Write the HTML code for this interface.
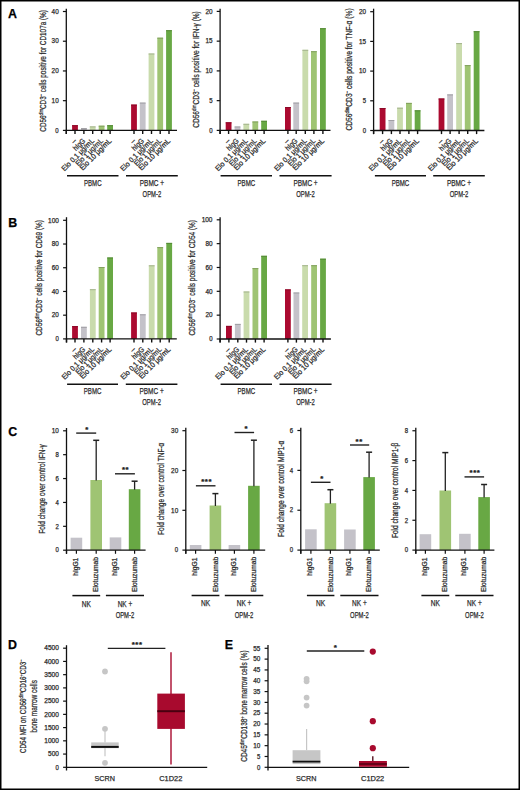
<!DOCTYPE html>
<html><head><meta charset="utf-8"><title>Figure</title>
<style>
html,body{margin:0;padding:0;background:#fff;}
body{width:520px;height:790px;overflow:hidden;}
svg{display:block;}
text{font-family:"Liberation Sans", sans-serif;stroke:currentColor;stroke-width:0.25px;}
</style></head>
<body>
<svg width="520" height="790" viewBox="0 0 520 790">
<rect x="0" y="0" width="520" height="790" fill="#fff"/>
<text x="8.00" y="18.00" font-size="12.4" text-anchor="start" fill="#000" color="#000" font-weight="bold">A</text>
<text x="8.30" y="226.60" font-size="12.4" text-anchor="start" fill="#000" color="#000" font-weight="bold">B</text>
<text x="8.30" y="436.30" font-size="12.4" text-anchor="start" fill="#000" color="#000" font-weight="bold">C</text>
<text x="8.00" y="648.60" font-size="12.4" text-anchor="start" fill="#000" color="#000" font-weight="bold">D</text>
<text x="224.80" y="648.80" font-size="12.4" text-anchor="start" fill="#000" color="#000" font-weight="bold">E</text>
<line x1="66.30" y1="8.70" x2="66.30" y2="134.00" stroke="#111" stroke-width="1.3"/>
<line x1="62.90" y1="130.40" x2="66.30" y2="130.40" stroke="#111" stroke-width="1.2"/>
<text x="58.70" y="132.64" font-size="6.6" text-anchor="end" fill="#2a2a2a" color="#2a2a2a" font-weight="normal" textLength="3.35" lengthAdjust="spacingAndGlyphs">0</text>
<line x1="62.90" y1="100.68" x2="66.30" y2="100.68" stroke="#111" stroke-width="1.2"/>
<text x="58.70" y="102.91" font-size="6.6" text-anchor="end" fill="#2a2a2a" color="#2a2a2a" font-weight="normal" textLength="7.10" lengthAdjust="spacingAndGlyphs">10</text>
<line x1="62.90" y1="70.95" x2="66.30" y2="70.95" stroke="#111" stroke-width="1.2"/>
<text x="58.70" y="73.19" font-size="6.6" text-anchor="end" fill="#2a2a2a" color="#2a2a2a" font-weight="normal" textLength="7.10" lengthAdjust="spacingAndGlyphs">20</text>
<line x1="62.90" y1="41.22" x2="66.30" y2="41.22" stroke="#111" stroke-width="1.2"/>
<text x="58.70" y="43.46" font-size="6.6" text-anchor="end" fill="#2a2a2a" color="#2a2a2a" font-weight="normal" textLength="7.10" lengthAdjust="spacingAndGlyphs">30</text>
<line x1="62.90" y1="11.50" x2="66.30" y2="11.50" stroke="#111" stroke-width="1.2"/>
<text x="58.70" y="13.74" font-size="6.6" text-anchor="end" fill="#2a2a2a" color="#2a2a2a" font-weight="normal" textLength="7.10" lengthAdjust="spacingAndGlyphs">40</text>
<rect x="72.10" y="125.20" width="5.80" height="5.20" fill="#ab0a30"/>
<rect x="72.10" y="125.20" width="5.80" height="1.00" fill="#8c0827"/>
<rect x="81.00" y="128.10" width="5.80" height="2.30" fill="#c4c2c9"/>
<rect x="81.00" y="128.10" width="5.80" height="1.00" fill="#a09fa4"/>
<rect x="89.80" y="126.40" width="5.80" height="4.00" fill="#c9dbac"/>
<rect x="89.80" y="126.40" width="5.80" height="1.00" fill="#a4b38d"/>
<rect x="98.70" y="125.70" width="5.80" height="4.70" fill="#9fc473"/>
<rect x="98.70" y="125.70" width="5.80" height="1.00" fill="#82a05e"/>
<rect x="107.20" y="125.20" width="5.80" height="5.20" fill="#68a844"/>
<rect x="107.20" y="125.20" width="5.80" height="1.00" fill="#558937"/>
<rect x="131.10" y="104.60" width="5.80" height="25.80" fill="#ab0a30"/>
<rect x="131.10" y="104.60" width="5.80" height="1.00" fill="#8c0827"/>
<rect x="139.80" y="102.60" width="5.80" height="27.80" fill="#c4c2c9"/>
<rect x="139.80" y="102.60" width="5.80" height="1.00" fill="#a09fa4"/>
<rect x="148.60" y="53.50" width="5.80" height="76.90" fill="#c9dbac"/>
<rect x="148.60" y="53.50" width="5.80" height="1.00" fill="#a4b38d"/>
<rect x="157.30" y="37.70" width="5.80" height="92.70" fill="#9fc473"/>
<rect x="157.30" y="37.70" width="5.80" height="1.00" fill="#82a05e"/>
<rect x="166.10" y="30.20" width="5.80" height="100.20" fill="#68a844"/>
<rect x="166.10" y="30.20" width="5.80" height="1.00" fill="#558937"/>
<line x1="65.70" y1="130.40" x2="177.00" y2="130.40" stroke="#111" stroke-width="1.3"/>
<line x1="66.30" y1="130.40" x2="66.30" y2="134.00" stroke="#111" stroke-width="1.4"/>
<line x1="75.00" y1="130.40" x2="75.00" y2="134.00" stroke="#111" stroke-width="1.4"/>
<line x1="83.90" y1="130.40" x2="83.90" y2="134.00" stroke="#111" stroke-width="1.4"/>
<line x1="92.70" y1="130.40" x2="92.70" y2="134.00" stroke="#111" stroke-width="1.4"/>
<line x1="101.60" y1="130.40" x2="101.60" y2="134.00" stroke="#111" stroke-width="1.4"/>
<line x1="110.10" y1="130.40" x2="110.10" y2="134.00" stroke="#111" stroke-width="1.4"/>
<line x1="134.00" y1="130.40" x2="134.00" y2="134.00" stroke="#111" stroke-width="1.4"/>
<line x1="142.70" y1="130.40" x2="142.70" y2="134.00" stroke="#111" stroke-width="1.4"/>
<line x1="151.50" y1="130.40" x2="151.50" y2="134.00" stroke="#111" stroke-width="1.4"/>
<line x1="160.20" y1="130.40" x2="160.20" y2="134.00" stroke="#111" stroke-width="1.4"/>
<line x1="169.00" y1="130.40" x2="169.00" y2="134.00" stroke="#111" stroke-width="1.4"/>
<text x="45.69" y="70.90" font-size="9.0" text-anchor="middle" fill="#2a2a2a" color="#2a2a2a" font-weight="normal" textLength="121.60" lengthAdjust="spacingAndGlyphs" transform="rotate(-90 45.69 70.90)">CD56<tspan font-size="5.6" dy="-3.0">dim</tspan><tspan dy="3.0">​</tspan>CD3<tspan font-size="5.6" dy="-3.0">−</tspan><tspan dy="3.0">​</tspan> cells positive for CD107a (%)</text>
<text x="76.90" y="141.40" font-size="7.5" text-anchor="end" fill="#2a2a2a" color="#2a2a2a" font-weight="normal" transform="rotate(-45 76.90 141.40)">–</text>
<text x="85.80" y="141.40" font-size="7.5" text-anchor="end" fill="#2a2a2a" color="#2a2a2a" font-weight="normal" textLength="14.00" lengthAdjust="spacingAndGlyphs" transform="rotate(-45 85.80 141.40)">hIgG</text>
<text x="94.60" y="141.40" font-size="7.5" text-anchor="end" fill="#2a2a2a" color="#2a2a2a" font-weight="normal" textLength="42.50" lengthAdjust="spacingAndGlyphs" transform="rotate(-45 94.60 141.40)">Elo 0.1 μg/mL</text>
<text x="103.50" y="141.40" font-size="7.5" text-anchor="end" fill="#2a2a2a" color="#2a2a2a" font-weight="normal" textLength="35.50" lengthAdjust="spacingAndGlyphs" transform="rotate(-45 103.50 141.40)">Elo 1 μg/mL</text>
<text x="112.00" y="141.40" font-size="7.5" text-anchor="end" fill="#2a2a2a" color="#2a2a2a" font-weight="normal" textLength="41.50" lengthAdjust="spacingAndGlyphs" transform="rotate(-45 112.00 141.40)">Elo 10 μg/mL</text>
<text x="135.90" y="141.40" font-size="7.5" text-anchor="end" fill="#2a2a2a" color="#2a2a2a" font-weight="normal" transform="rotate(-45 135.90 141.40)">–</text>
<text x="144.60" y="141.40" font-size="7.5" text-anchor="end" fill="#2a2a2a" color="#2a2a2a" font-weight="normal" textLength="14.00" lengthAdjust="spacingAndGlyphs" transform="rotate(-45 144.60 141.40)">hIgG</text>
<text x="153.40" y="141.40" font-size="7.5" text-anchor="end" fill="#2a2a2a" color="#2a2a2a" font-weight="normal" textLength="42.50" lengthAdjust="spacingAndGlyphs" transform="rotate(-45 153.40 141.40)">Elo 0.1 μg/mL</text>
<text x="162.10" y="141.40" font-size="7.5" text-anchor="end" fill="#2a2a2a" color="#2a2a2a" font-weight="normal" textLength="35.50" lengthAdjust="spacingAndGlyphs" transform="rotate(-45 162.10 141.40)">Elo 1 μg/mL</text>
<text x="170.90" y="141.40" font-size="7.5" text-anchor="end" fill="#2a2a2a" color="#2a2a2a" font-weight="normal" textLength="41.50" lengthAdjust="spacingAndGlyphs" transform="rotate(-45 170.90 141.40)">Elo 10 μg/mL</text>
<line x1="67.00" y1="175.70" x2="118.50" y2="175.70" stroke="#111" stroke-width="1.5"/>
<line x1="126.00" y1="175.70" x2="177.80" y2="175.70" stroke="#111" stroke-width="1.5"/>
<text x="92.75" y="185.60" font-size="9.2" text-anchor="middle" fill="#2a2a2a" color="#2a2a2a" font-weight="normal" textLength="17.60" lengthAdjust="spacingAndGlyphs">PBMC</text>
<text x="151.90" y="185.60" font-size="9.2" text-anchor="middle" fill="#2a2a2a" color="#2a2a2a" font-weight="normal" textLength="24.20" lengthAdjust="spacingAndGlyphs">PBMC +</text>
<text x="151.90" y="196.50" font-size="9.2" text-anchor="middle" fill="#2a2a2a" color="#2a2a2a" font-weight="normal" textLength="18.60" lengthAdjust="spacingAndGlyphs">OPM-2</text>
<line x1="220.10" y1="8.70" x2="220.10" y2="134.00" stroke="#111" stroke-width="1.3"/>
<line x1="216.70" y1="130.40" x2="220.10" y2="130.40" stroke="#111" stroke-width="1.2"/>
<text x="212.50" y="132.64" font-size="6.6" text-anchor="end" fill="#2a2a2a" color="#2a2a2a" font-weight="normal" textLength="3.35" lengthAdjust="spacingAndGlyphs">0</text>
<line x1="216.70" y1="100.65" x2="220.10" y2="100.65" stroke="#111" stroke-width="1.2"/>
<text x="212.50" y="102.89" font-size="6.6" text-anchor="end" fill="#2a2a2a" color="#2a2a2a" font-weight="normal" textLength="3.35" lengthAdjust="spacingAndGlyphs">5</text>
<line x1="216.70" y1="70.90" x2="220.10" y2="70.90" stroke="#111" stroke-width="1.2"/>
<text x="212.50" y="73.14" font-size="6.6" text-anchor="end" fill="#2a2a2a" color="#2a2a2a" font-weight="normal" textLength="7.10" lengthAdjust="spacingAndGlyphs">10</text>
<line x1="216.70" y1="41.15" x2="220.10" y2="41.15" stroke="#111" stroke-width="1.2"/>
<text x="212.50" y="43.39" font-size="6.6" text-anchor="end" fill="#2a2a2a" color="#2a2a2a" font-weight="normal" textLength="7.10" lengthAdjust="spacingAndGlyphs">15</text>
<line x1="216.70" y1="11.40" x2="220.10" y2="11.40" stroke="#111" stroke-width="1.2"/>
<text x="212.50" y="13.64" font-size="6.6" text-anchor="end" fill="#2a2a2a" color="#2a2a2a" font-weight="normal" textLength="7.10" lengthAdjust="spacingAndGlyphs">20</text>
<rect x="225.70" y="122.30" width="5.80" height="8.10" fill="#ab0a30"/>
<rect x="225.70" y="122.30" width="5.80" height="1.00" fill="#8c0827"/>
<rect x="234.60" y="126.50" width="5.80" height="3.90" fill="#c4c2c9"/>
<rect x="234.60" y="126.50" width="5.80" height="1.00" fill="#a09fa4"/>
<rect x="243.40" y="123.80" width="5.80" height="6.60" fill="#c9dbac"/>
<rect x="243.40" y="123.80" width="5.80" height="1.00" fill="#a4b38d"/>
<rect x="252.40" y="121.50" width="5.80" height="8.90" fill="#9fc473"/>
<rect x="252.40" y="121.50" width="5.80" height="1.00" fill="#82a05e"/>
<rect x="261.20" y="120.80" width="5.80" height="9.60" fill="#68a844"/>
<rect x="261.20" y="120.80" width="5.80" height="1.00" fill="#558937"/>
<rect x="285.00" y="107.00" width="5.80" height="23.40" fill="#ab0a30"/>
<rect x="285.00" y="107.00" width="5.80" height="1.00" fill="#8c0827"/>
<rect x="293.30" y="102.60" width="5.80" height="27.80" fill="#c4c2c9"/>
<rect x="293.30" y="102.60" width="5.80" height="1.00" fill="#a09fa4"/>
<rect x="302.40" y="49.80" width="5.80" height="80.60" fill="#c9dbac"/>
<rect x="302.40" y="49.80" width="5.80" height="1.00" fill="#a4b38d"/>
<rect x="311.00" y="51.20" width="5.80" height="79.20" fill="#9fc473"/>
<rect x="311.00" y="51.20" width="5.80" height="1.00" fill="#82a05e"/>
<rect x="320.00" y="28.20" width="5.80" height="102.20" fill="#68a844"/>
<rect x="320.00" y="28.20" width="5.80" height="1.00" fill="#558937"/>
<line x1="219.50" y1="130.40" x2="330.50" y2="130.40" stroke="#111" stroke-width="1.3"/>
<line x1="220.10" y1="130.40" x2="220.10" y2="134.00" stroke="#111" stroke-width="1.4"/>
<line x1="228.60" y1="130.40" x2="228.60" y2="134.00" stroke="#111" stroke-width="1.4"/>
<line x1="237.50" y1="130.40" x2="237.50" y2="134.00" stroke="#111" stroke-width="1.4"/>
<line x1="246.30" y1="130.40" x2="246.30" y2="134.00" stroke="#111" stroke-width="1.4"/>
<line x1="255.30" y1="130.40" x2="255.30" y2="134.00" stroke="#111" stroke-width="1.4"/>
<line x1="264.10" y1="130.40" x2="264.10" y2="134.00" stroke="#111" stroke-width="1.4"/>
<line x1="287.90" y1="130.40" x2="287.90" y2="134.00" stroke="#111" stroke-width="1.4"/>
<line x1="296.20" y1="130.40" x2="296.20" y2="134.00" stroke="#111" stroke-width="1.4"/>
<line x1="305.30" y1="130.40" x2="305.30" y2="134.00" stroke="#111" stroke-width="1.4"/>
<line x1="313.90" y1="130.40" x2="313.90" y2="134.00" stroke="#111" stroke-width="1.4"/>
<line x1="322.90" y1="130.40" x2="322.90" y2="134.00" stroke="#111" stroke-width="1.4"/>
<text x="198.88" y="69.45" font-size="9.0" text-anchor="middle" fill="#2a2a2a" color="#2a2a2a" font-weight="normal" textLength="116.50" lengthAdjust="spacingAndGlyphs" transform="rotate(-90 198.88 69.45)">CD56<tspan font-size="5.6" dy="-3.0">dim</tspan><tspan dy="3.0">​</tspan>CD3<tspan font-size="5.6" dy="-3.0">−</tspan><tspan dy="3.0">​</tspan> cells positive for IFN-γ (%)</text>
<text x="230.50" y="141.40" font-size="7.5" text-anchor="end" fill="#2a2a2a" color="#2a2a2a" font-weight="normal" transform="rotate(-45 230.50 141.40)">–</text>
<text x="239.40" y="141.40" font-size="7.5" text-anchor="end" fill="#2a2a2a" color="#2a2a2a" font-weight="normal" textLength="14.00" lengthAdjust="spacingAndGlyphs" transform="rotate(-45 239.40 141.40)">hIgG</text>
<text x="248.20" y="141.40" font-size="7.5" text-anchor="end" fill="#2a2a2a" color="#2a2a2a" font-weight="normal" textLength="42.50" lengthAdjust="spacingAndGlyphs" transform="rotate(-45 248.20 141.40)">Elo 0.1 μg/mL</text>
<text x="257.20" y="141.40" font-size="7.5" text-anchor="end" fill="#2a2a2a" color="#2a2a2a" font-weight="normal" textLength="35.50" lengthAdjust="spacingAndGlyphs" transform="rotate(-45 257.20 141.40)">Elo 1 μg/mL</text>
<text x="266.00" y="141.40" font-size="7.5" text-anchor="end" fill="#2a2a2a" color="#2a2a2a" font-weight="normal" textLength="41.50" lengthAdjust="spacingAndGlyphs" transform="rotate(-45 266.00 141.40)">Elo 10 μg/mL</text>
<text x="289.80" y="141.40" font-size="7.5" text-anchor="end" fill="#2a2a2a" color="#2a2a2a" font-weight="normal" transform="rotate(-45 289.80 141.40)">–</text>
<text x="298.10" y="141.40" font-size="7.5" text-anchor="end" fill="#2a2a2a" color="#2a2a2a" font-weight="normal" textLength="14.00" lengthAdjust="spacingAndGlyphs" transform="rotate(-45 298.10 141.40)">hIgG</text>
<text x="307.20" y="141.40" font-size="7.5" text-anchor="end" fill="#2a2a2a" color="#2a2a2a" font-weight="normal" textLength="42.50" lengthAdjust="spacingAndGlyphs" transform="rotate(-45 307.20 141.40)">Elo 0.1 μg/mL</text>
<text x="315.80" y="141.40" font-size="7.5" text-anchor="end" fill="#2a2a2a" color="#2a2a2a" font-weight="normal" textLength="35.50" lengthAdjust="spacingAndGlyphs" transform="rotate(-45 315.80 141.40)">Elo 1 μg/mL</text>
<text x="324.80" y="141.40" font-size="7.5" text-anchor="end" fill="#2a2a2a" color="#2a2a2a" font-weight="normal" textLength="41.50" lengthAdjust="spacingAndGlyphs" transform="rotate(-45 324.80 141.40)">Elo 10 μg/mL</text>
<line x1="220.60" y1="175.70" x2="272.00" y2="175.70" stroke="#111" stroke-width="1.5"/>
<line x1="279.50" y1="175.70" x2="331.60" y2="175.70" stroke="#111" stroke-width="1.5"/>
<text x="246.30" y="185.60" font-size="9.2" text-anchor="middle" fill="#2a2a2a" color="#2a2a2a" font-weight="normal" textLength="17.60" lengthAdjust="spacingAndGlyphs">PBMC</text>
<text x="305.55" y="185.60" font-size="9.2" text-anchor="middle" fill="#2a2a2a" color="#2a2a2a" font-weight="normal" textLength="24.20" lengthAdjust="spacingAndGlyphs">PBMC +</text>
<text x="305.55" y="196.50" font-size="9.2" text-anchor="middle" fill="#2a2a2a" color="#2a2a2a" font-weight="normal" textLength="18.60" lengthAdjust="spacingAndGlyphs">OPM-2</text>
<line x1="373.60" y1="8.70" x2="373.60" y2="134.10" stroke="#111" stroke-width="1.3"/>
<line x1="370.20" y1="130.50" x2="373.60" y2="130.50" stroke="#111" stroke-width="1.2"/>
<text x="366.00" y="132.74" font-size="6.6" text-anchor="end" fill="#2a2a2a" color="#2a2a2a" font-weight="normal" textLength="3.35" lengthAdjust="spacingAndGlyphs">0</text>
<line x1="370.20" y1="100.80" x2="373.60" y2="100.80" stroke="#111" stroke-width="1.2"/>
<text x="366.00" y="103.04" font-size="6.6" text-anchor="end" fill="#2a2a2a" color="#2a2a2a" font-weight="normal" textLength="3.35" lengthAdjust="spacingAndGlyphs">5</text>
<line x1="370.20" y1="71.10" x2="373.60" y2="71.10" stroke="#111" stroke-width="1.2"/>
<text x="366.00" y="73.34" font-size="6.6" text-anchor="end" fill="#2a2a2a" color="#2a2a2a" font-weight="normal" textLength="7.10" lengthAdjust="spacingAndGlyphs">10</text>
<line x1="370.20" y1="41.40" x2="373.60" y2="41.40" stroke="#111" stroke-width="1.2"/>
<text x="366.00" y="43.64" font-size="6.6" text-anchor="end" fill="#2a2a2a" color="#2a2a2a" font-weight="normal" textLength="7.10" lengthAdjust="spacingAndGlyphs">15</text>
<line x1="370.20" y1="11.70" x2="373.60" y2="11.70" stroke="#111" stroke-width="1.2"/>
<text x="366.00" y="13.94" font-size="6.6" text-anchor="end" fill="#2a2a2a" color="#2a2a2a" font-weight="normal" textLength="7.10" lengthAdjust="spacingAndGlyphs">20</text>
<rect x="379.70" y="108.00" width="5.80" height="22.50" fill="#ab0a30"/>
<rect x="379.70" y="108.00" width="5.80" height="1.00" fill="#8c0827"/>
<rect x="388.50" y="120.00" width="5.80" height="10.50" fill="#c4c2c9"/>
<rect x="388.50" y="120.00" width="5.80" height="1.00" fill="#a09fa4"/>
<rect x="397.10" y="107.70" width="5.80" height="22.80" fill="#c9dbac"/>
<rect x="397.10" y="107.70" width="5.80" height="1.00" fill="#a4b38d"/>
<rect x="406.00" y="102.90" width="5.80" height="27.60" fill="#9fc473"/>
<rect x="406.00" y="102.90" width="5.80" height="1.00" fill="#82a05e"/>
<rect x="414.70" y="110.30" width="5.80" height="20.20" fill="#68a844"/>
<rect x="414.70" y="110.30" width="5.80" height="1.00" fill="#558937"/>
<rect x="438.60" y="98.50" width="5.80" height="32.00" fill="#ab0a30"/>
<rect x="438.60" y="98.50" width="5.80" height="1.00" fill="#8c0827"/>
<rect x="447.20" y="94.40" width="5.80" height="36.10" fill="#c4c2c9"/>
<rect x="447.20" y="94.40" width="5.80" height="1.00" fill="#a09fa4"/>
<rect x="456.20" y="43.10" width="5.80" height="87.40" fill="#c9dbac"/>
<rect x="456.20" y="43.10" width="5.80" height="1.00" fill="#a4b38d"/>
<rect x="464.80" y="65.10" width="5.80" height="65.40" fill="#9fc473"/>
<rect x="464.80" y="65.10" width="5.80" height="1.00" fill="#82a05e"/>
<rect x="473.70" y="31.20" width="5.80" height="99.30" fill="#68a844"/>
<rect x="473.70" y="31.20" width="5.80" height="1.00" fill="#558937"/>
<line x1="373.00" y1="130.50" x2="484.40" y2="130.50" stroke="#111" stroke-width="1.3"/>
<line x1="373.60" y1="130.50" x2="373.60" y2="134.10" stroke="#111" stroke-width="1.4"/>
<line x1="382.60" y1="130.50" x2="382.60" y2="134.10" stroke="#111" stroke-width="1.4"/>
<line x1="391.40" y1="130.50" x2="391.40" y2="134.10" stroke="#111" stroke-width="1.4"/>
<line x1="400.00" y1="130.50" x2="400.00" y2="134.10" stroke="#111" stroke-width="1.4"/>
<line x1="408.90" y1="130.50" x2="408.90" y2="134.10" stroke="#111" stroke-width="1.4"/>
<line x1="417.60" y1="130.50" x2="417.60" y2="134.10" stroke="#111" stroke-width="1.4"/>
<line x1="441.50" y1="130.50" x2="441.50" y2="134.10" stroke="#111" stroke-width="1.4"/>
<line x1="450.10" y1="130.50" x2="450.10" y2="134.10" stroke="#111" stroke-width="1.4"/>
<line x1="459.10" y1="130.50" x2="459.10" y2="134.10" stroke="#111" stroke-width="1.4"/>
<line x1="467.70" y1="130.50" x2="467.70" y2="134.10" stroke="#111" stroke-width="1.4"/>
<line x1="476.60" y1="130.50" x2="476.60" y2="134.10" stroke="#111" stroke-width="1.4"/>
<text x="352.19" y="69.45" font-size="9.0" text-anchor="middle" fill="#2a2a2a" color="#2a2a2a" font-weight="normal" textLength="122.30" lengthAdjust="spacingAndGlyphs" transform="rotate(-90 352.19 69.45)">CD56<tspan font-size="5.6" dy="-3.0">dim</tspan><tspan dy="3.0">​</tspan>CD3<tspan font-size="5.6" dy="-3.0">−</tspan><tspan dy="3.0">​</tspan> cells positive for TNF-α (%)</text>
<text x="384.50" y="141.50" font-size="7.5" text-anchor="end" fill="#2a2a2a" color="#2a2a2a" font-weight="normal" transform="rotate(-45 384.50 141.50)">–</text>
<text x="393.30" y="141.50" font-size="7.5" text-anchor="end" fill="#2a2a2a" color="#2a2a2a" font-weight="normal" textLength="14.00" lengthAdjust="spacingAndGlyphs" transform="rotate(-45 393.30 141.50)">hIgG</text>
<text x="401.90" y="141.50" font-size="7.5" text-anchor="end" fill="#2a2a2a" color="#2a2a2a" font-weight="normal" textLength="42.50" lengthAdjust="spacingAndGlyphs" transform="rotate(-45 401.90 141.50)">Elo 0.1 μg/mL</text>
<text x="410.80" y="141.50" font-size="7.5" text-anchor="end" fill="#2a2a2a" color="#2a2a2a" font-weight="normal" textLength="35.50" lengthAdjust="spacingAndGlyphs" transform="rotate(-45 410.80 141.50)">Elo 1 μg/mL</text>
<text x="419.50" y="141.50" font-size="7.5" text-anchor="end" fill="#2a2a2a" color="#2a2a2a" font-weight="normal" textLength="41.50" lengthAdjust="spacingAndGlyphs" transform="rotate(-45 419.50 141.50)">Elo 10 μg/mL</text>
<text x="443.40" y="141.50" font-size="7.5" text-anchor="end" fill="#2a2a2a" color="#2a2a2a" font-weight="normal" transform="rotate(-45 443.40 141.50)">–</text>
<text x="452.00" y="141.50" font-size="7.5" text-anchor="end" fill="#2a2a2a" color="#2a2a2a" font-weight="normal" textLength="14.00" lengthAdjust="spacingAndGlyphs" transform="rotate(-45 452.00 141.50)">hIgG</text>
<text x="461.00" y="141.50" font-size="7.5" text-anchor="end" fill="#2a2a2a" color="#2a2a2a" font-weight="normal" textLength="42.50" lengthAdjust="spacingAndGlyphs" transform="rotate(-45 461.00 141.50)">Elo 0.1 μg/mL</text>
<text x="469.60" y="141.50" font-size="7.5" text-anchor="end" fill="#2a2a2a" color="#2a2a2a" font-weight="normal" textLength="35.50" lengthAdjust="spacingAndGlyphs" transform="rotate(-45 469.60 141.50)">Elo 1 μg/mL</text>
<text x="478.50" y="141.50" font-size="7.5" text-anchor="end" fill="#2a2a2a" color="#2a2a2a" font-weight="normal" textLength="41.50" lengthAdjust="spacingAndGlyphs" transform="rotate(-45 478.50 141.50)">Elo 10 μg/mL</text>
<line x1="374.90" y1="175.80" x2="426.00" y2="175.80" stroke="#111" stroke-width="1.5"/>
<line x1="433.20" y1="175.80" x2="484.80" y2="175.80" stroke="#111" stroke-width="1.5"/>
<text x="400.45" y="185.70" font-size="9.2" text-anchor="middle" fill="#2a2a2a" color="#2a2a2a" font-weight="normal" textLength="17.60" lengthAdjust="spacingAndGlyphs">PBMC</text>
<text x="459.00" y="185.70" font-size="9.2" text-anchor="middle" fill="#2a2a2a" color="#2a2a2a" font-weight="normal" textLength="24.20" lengthAdjust="spacingAndGlyphs">PBMC +</text>
<text x="459.00" y="196.60" font-size="9.2" text-anchor="middle" fill="#2a2a2a" color="#2a2a2a" font-weight="normal" textLength="18.60" lengthAdjust="spacingAndGlyphs">OPM-2</text>
<line x1="66.50" y1="217.20" x2="66.50" y2="342.50" stroke="#111" stroke-width="1.3"/>
<line x1="63.10" y1="338.90" x2="66.50" y2="338.90" stroke="#111" stroke-width="1.2"/>
<text x="58.90" y="341.14" font-size="6.6" text-anchor="end" fill="#2a2a2a" color="#2a2a2a" font-weight="normal" textLength="3.35" lengthAdjust="spacingAndGlyphs">0</text>
<line x1="63.10" y1="315.18" x2="66.50" y2="315.18" stroke="#111" stroke-width="1.2"/>
<text x="58.90" y="317.42" font-size="6.6" text-anchor="end" fill="#2a2a2a" color="#2a2a2a" font-weight="normal" textLength="7.10" lengthAdjust="spacingAndGlyphs">20</text>
<line x1="63.10" y1="291.46" x2="66.50" y2="291.46" stroke="#111" stroke-width="1.2"/>
<text x="58.90" y="293.70" font-size="6.6" text-anchor="end" fill="#2a2a2a" color="#2a2a2a" font-weight="normal" textLength="7.10" lengthAdjust="spacingAndGlyphs">40</text>
<line x1="63.10" y1="267.74" x2="66.50" y2="267.74" stroke="#111" stroke-width="1.2"/>
<text x="58.90" y="269.98" font-size="6.6" text-anchor="end" fill="#2a2a2a" color="#2a2a2a" font-weight="normal" textLength="7.10" lengthAdjust="spacingAndGlyphs">60</text>
<line x1="63.10" y1="244.02" x2="66.50" y2="244.02" stroke="#111" stroke-width="1.2"/>
<text x="58.90" y="246.26" font-size="6.6" text-anchor="end" fill="#2a2a2a" color="#2a2a2a" font-weight="normal" textLength="7.10" lengthAdjust="spacingAndGlyphs">80</text>
<line x1="63.10" y1="220.30" x2="66.50" y2="220.30" stroke="#111" stroke-width="1.2"/>
<text x="58.90" y="222.54" font-size="6.6" text-anchor="end" fill="#2a2a2a" color="#2a2a2a" font-weight="normal" textLength="10.85" lengthAdjust="spacingAndGlyphs">100</text>
<rect x="72.10" y="326.10" width="5.80" height="12.80" fill="#ab0a30"/>
<rect x="72.10" y="326.10" width="5.80" height="1.00" fill="#8c0827"/>
<rect x="81.00" y="326.80" width="5.80" height="12.10" fill="#c4c2c9"/>
<rect x="81.00" y="326.80" width="5.80" height="1.00" fill="#a09fa4"/>
<rect x="89.90" y="289.20" width="5.80" height="49.70" fill="#c9dbac"/>
<rect x="89.90" y="289.20" width="5.80" height="1.00" fill="#a4b38d"/>
<rect x="98.70" y="267.00" width="5.80" height="71.90" fill="#9fc473"/>
<rect x="98.70" y="267.00" width="5.80" height="1.00" fill="#82a05e"/>
<rect x="107.20" y="257.50" width="5.80" height="81.40" fill="#68a844"/>
<rect x="107.20" y="257.50" width="5.80" height="1.00" fill="#558937"/>
<rect x="131.10" y="312.50" width="5.80" height="26.40" fill="#ab0a30"/>
<rect x="131.10" y="312.50" width="5.80" height="1.00" fill="#8c0827"/>
<rect x="139.90" y="314.30" width="5.80" height="24.60" fill="#c4c2c9"/>
<rect x="139.90" y="314.30" width="5.80" height="1.00" fill="#a09fa4"/>
<rect x="148.80" y="265.30" width="5.80" height="73.60" fill="#c9dbac"/>
<rect x="148.80" y="265.30" width="5.80" height="1.00" fill="#a4b38d"/>
<rect x="157.30" y="247.10" width="5.80" height="91.80" fill="#9fc473"/>
<rect x="157.30" y="247.10" width="5.80" height="1.00" fill="#82a05e"/>
<rect x="166.30" y="242.90" width="5.80" height="96.00" fill="#68a844"/>
<rect x="166.30" y="242.90" width="5.80" height="1.00" fill="#558937"/>
<line x1="65.90" y1="338.90" x2="176.80" y2="338.90" stroke="#111" stroke-width="1.3"/>
<line x1="66.50" y1="338.90" x2="66.50" y2="342.50" stroke="#111" stroke-width="1.4"/>
<line x1="75.00" y1="338.90" x2="75.00" y2="342.50" stroke="#111" stroke-width="1.4"/>
<line x1="83.90" y1="338.90" x2="83.90" y2="342.50" stroke="#111" stroke-width="1.4"/>
<line x1="92.80" y1="338.90" x2="92.80" y2="342.50" stroke="#111" stroke-width="1.4"/>
<line x1="101.60" y1="338.90" x2="101.60" y2="342.50" stroke="#111" stroke-width="1.4"/>
<line x1="110.10" y1="338.90" x2="110.10" y2="342.50" stroke="#111" stroke-width="1.4"/>
<line x1="134.00" y1="338.90" x2="134.00" y2="342.50" stroke="#111" stroke-width="1.4"/>
<line x1="142.80" y1="338.90" x2="142.80" y2="342.50" stroke="#111" stroke-width="1.4"/>
<line x1="151.70" y1="338.90" x2="151.70" y2="342.50" stroke="#111" stroke-width="1.4"/>
<line x1="160.20" y1="338.90" x2="160.20" y2="342.50" stroke="#111" stroke-width="1.4"/>
<line x1="169.20" y1="338.90" x2="169.20" y2="342.50" stroke="#111" stroke-width="1.4"/>
<text x="41.69" y="277.85" font-size="9.0" text-anchor="middle" fill="#2a2a2a" color="#2a2a2a" font-weight="normal" textLength="115.50" lengthAdjust="spacingAndGlyphs" transform="rotate(-90 41.69 277.85)">CD56<tspan font-size="5.6" dy="-3.0">dim</tspan><tspan dy="3.0">​</tspan>CD3<tspan font-size="5.6" dy="-3.0">−</tspan><tspan dy="3.0">​</tspan> cells positive for CD69 (%)</text>
<text x="76.90" y="349.90" font-size="7.5" text-anchor="end" fill="#2a2a2a" color="#2a2a2a" font-weight="normal" transform="rotate(-45 76.90 349.90)">–</text>
<text x="85.80" y="349.90" font-size="7.5" text-anchor="end" fill="#2a2a2a" color="#2a2a2a" font-weight="normal" textLength="14.00" lengthAdjust="spacingAndGlyphs" transform="rotate(-45 85.80 349.90)">hIgG</text>
<text x="94.70" y="349.90" font-size="7.5" text-anchor="end" fill="#2a2a2a" color="#2a2a2a" font-weight="normal" textLength="42.50" lengthAdjust="spacingAndGlyphs" transform="rotate(-45 94.70 349.90)">Elo 0.1 μg/mL</text>
<text x="103.50" y="349.90" font-size="7.5" text-anchor="end" fill="#2a2a2a" color="#2a2a2a" font-weight="normal" textLength="35.50" lengthAdjust="spacingAndGlyphs" transform="rotate(-45 103.50 349.90)">Elo 1 μg/mL</text>
<text x="112.00" y="349.90" font-size="7.5" text-anchor="end" fill="#2a2a2a" color="#2a2a2a" font-weight="normal" textLength="41.50" lengthAdjust="spacingAndGlyphs" transform="rotate(-45 112.00 349.90)">Elo 10 μg/mL</text>
<text x="135.90" y="349.90" font-size="7.5" text-anchor="end" fill="#2a2a2a" color="#2a2a2a" font-weight="normal" transform="rotate(-45 135.90 349.90)">–</text>
<text x="144.70" y="349.90" font-size="7.5" text-anchor="end" fill="#2a2a2a" color="#2a2a2a" font-weight="normal" textLength="14.00" lengthAdjust="spacingAndGlyphs" transform="rotate(-45 144.70 349.90)">hIgG</text>
<text x="153.60" y="349.90" font-size="7.5" text-anchor="end" fill="#2a2a2a" color="#2a2a2a" font-weight="normal" textLength="42.50" lengthAdjust="spacingAndGlyphs" transform="rotate(-45 153.60 349.90)">Elo 0.1 μg/mL</text>
<text x="162.10" y="349.90" font-size="7.5" text-anchor="end" fill="#2a2a2a" color="#2a2a2a" font-weight="normal" textLength="35.50" lengthAdjust="spacingAndGlyphs" transform="rotate(-45 162.10 349.90)">Elo 1 μg/mL</text>
<text x="171.10" y="349.90" font-size="7.5" text-anchor="end" fill="#2a2a2a" color="#2a2a2a" font-weight="normal" textLength="41.50" lengthAdjust="spacingAndGlyphs" transform="rotate(-45 171.10 349.90)">Elo 10 μg/mL</text>
<line x1="67.10" y1="384.20" x2="118.00" y2="384.20" stroke="#111" stroke-width="1.5"/>
<line x1="125.80" y1="384.20" x2="177.40" y2="384.20" stroke="#111" stroke-width="1.5"/>
<text x="92.55" y="394.10" font-size="9.2" text-anchor="middle" fill="#2a2a2a" color="#2a2a2a" font-weight="normal" textLength="17.60" lengthAdjust="spacingAndGlyphs">PBMC</text>
<text x="151.60" y="394.10" font-size="9.2" text-anchor="middle" fill="#2a2a2a" color="#2a2a2a" font-weight="normal" textLength="24.20" lengthAdjust="spacingAndGlyphs">PBMC +</text>
<text x="151.60" y="405.00" font-size="9.2" text-anchor="middle" fill="#2a2a2a" color="#2a2a2a" font-weight="normal" textLength="18.60" lengthAdjust="spacingAndGlyphs">OPM-2</text>
<line x1="220.10" y1="217.20" x2="220.10" y2="342.60" stroke="#111" stroke-width="1.3"/>
<line x1="216.70" y1="339.00" x2="220.10" y2="339.00" stroke="#111" stroke-width="1.2"/>
<text x="212.50" y="341.24" font-size="6.6" text-anchor="end" fill="#2a2a2a" color="#2a2a2a" font-weight="normal" textLength="3.35" lengthAdjust="spacingAndGlyphs">0</text>
<line x1="216.70" y1="315.16" x2="220.10" y2="315.16" stroke="#111" stroke-width="1.2"/>
<text x="212.50" y="317.40" font-size="6.6" text-anchor="end" fill="#2a2a2a" color="#2a2a2a" font-weight="normal" textLength="7.10" lengthAdjust="spacingAndGlyphs">20</text>
<line x1="216.70" y1="291.32" x2="220.10" y2="291.32" stroke="#111" stroke-width="1.2"/>
<text x="212.50" y="293.56" font-size="6.6" text-anchor="end" fill="#2a2a2a" color="#2a2a2a" font-weight="normal" textLength="7.10" lengthAdjust="spacingAndGlyphs">40</text>
<line x1="216.70" y1="267.48" x2="220.10" y2="267.48" stroke="#111" stroke-width="1.2"/>
<text x="212.50" y="269.72" font-size="6.6" text-anchor="end" fill="#2a2a2a" color="#2a2a2a" font-weight="normal" textLength="7.10" lengthAdjust="spacingAndGlyphs">60</text>
<line x1="216.70" y1="243.64" x2="220.10" y2="243.64" stroke="#111" stroke-width="1.2"/>
<text x="212.50" y="245.88" font-size="6.6" text-anchor="end" fill="#2a2a2a" color="#2a2a2a" font-weight="normal" textLength="7.10" lengthAdjust="spacingAndGlyphs">80</text>
<line x1="216.70" y1="219.80" x2="220.10" y2="219.80" stroke="#111" stroke-width="1.2"/>
<text x="212.50" y="222.04" font-size="6.6" text-anchor="end" fill="#2a2a2a" color="#2a2a2a" font-weight="normal" textLength="10.85" lengthAdjust="spacingAndGlyphs">100</text>
<rect x="226.00" y="325.90" width="5.80" height="13.10" fill="#ab0a30"/>
<rect x="226.00" y="325.90" width="5.80" height="1.00" fill="#8c0827"/>
<rect x="234.90" y="323.90" width="5.80" height="15.10" fill="#c4c2c9"/>
<rect x="234.90" y="323.90" width="5.80" height="1.00" fill="#a09fa4"/>
<rect x="243.60" y="291.50" width="5.80" height="47.50" fill="#c9dbac"/>
<rect x="243.60" y="291.50" width="5.80" height="1.00" fill="#a4b38d"/>
<rect x="252.50" y="268.10" width="5.80" height="70.90" fill="#9fc473"/>
<rect x="252.50" y="268.10" width="5.80" height="1.00" fill="#82a05e"/>
<rect x="261.20" y="255.80" width="5.80" height="83.20" fill="#68a844"/>
<rect x="261.20" y="255.80" width="5.80" height="1.00" fill="#558937"/>
<rect x="285.00" y="289.40" width="5.80" height="49.60" fill="#ab0a30"/>
<rect x="285.00" y="289.40" width="5.80" height="1.00" fill="#8c0827"/>
<rect x="293.50" y="292.50" width="5.80" height="46.50" fill="#c4c2c9"/>
<rect x="293.50" y="292.50" width="5.80" height="1.00" fill="#a09fa4"/>
<rect x="302.20" y="265.20" width="5.80" height="73.80" fill="#c9dbac"/>
<rect x="302.20" y="265.20" width="5.80" height="1.00" fill="#a4b38d"/>
<rect x="311.20" y="265.20" width="5.80" height="73.80" fill="#9fc473"/>
<rect x="311.20" y="265.20" width="5.80" height="1.00" fill="#82a05e"/>
<rect x="320.10" y="258.70" width="5.80" height="80.30" fill="#68a844"/>
<rect x="320.10" y="258.70" width="5.80" height="1.00" fill="#558937"/>
<line x1="219.50" y1="339.00" x2="330.90" y2="339.00" stroke="#111" stroke-width="1.3"/>
<line x1="220.10" y1="339.00" x2="220.10" y2="342.60" stroke="#111" stroke-width="1.4"/>
<line x1="228.90" y1="339.00" x2="228.90" y2="342.60" stroke="#111" stroke-width="1.4"/>
<line x1="237.80" y1="339.00" x2="237.80" y2="342.60" stroke="#111" stroke-width="1.4"/>
<line x1="246.50" y1="339.00" x2="246.50" y2="342.60" stroke="#111" stroke-width="1.4"/>
<line x1="255.40" y1="339.00" x2="255.40" y2="342.60" stroke="#111" stroke-width="1.4"/>
<line x1="264.10" y1="339.00" x2="264.10" y2="342.60" stroke="#111" stroke-width="1.4"/>
<line x1="287.90" y1="339.00" x2="287.90" y2="342.60" stroke="#111" stroke-width="1.4"/>
<line x1="296.40" y1="339.00" x2="296.40" y2="342.60" stroke="#111" stroke-width="1.4"/>
<line x1="305.10" y1="339.00" x2="305.10" y2="342.60" stroke="#111" stroke-width="1.4"/>
<line x1="314.10" y1="339.00" x2="314.10" y2="342.60" stroke="#111" stroke-width="1.4"/>
<line x1="323.00" y1="339.00" x2="323.00" y2="342.60" stroke="#111" stroke-width="1.4"/>
<text x="195.28" y="277.85" font-size="9.0" text-anchor="middle" fill="#2a2a2a" color="#2a2a2a" font-weight="normal" textLength="115.50" lengthAdjust="spacingAndGlyphs" transform="rotate(-90 195.28 277.85)">CD56<tspan font-size="5.6" dy="-3.0">dim</tspan><tspan dy="3.0">​</tspan>CD3<tspan font-size="5.6" dy="-3.0">−</tspan><tspan dy="3.0">​</tspan> cells positive for CD54 (%)</text>
<text x="230.80" y="350.00" font-size="7.5" text-anchor="end" fill="#2a2a2a" color="#2a2a2a" font-weight="normal" transform="rotate(-45 230.80 350.00)">–</text>
<text x="239.70" y="350.00" font-size="7.5" text-anchor="end" fill="#2a2a2a" color="#2a2a2a" font-weight="normal" textLength="14.00" lengthAdjust="spacingAndGlyphs" transform="rotate(-45 239.70 350.00)">hIgG</text>
<text x="248.40" y="350.00" font-size="7.5" text-anchor="end" fill="#2a2a2a" color="#2a2a2a" font-weight="normal" textLength="42.50" lengthAdjust="spacingAndGlyphs" transform="rotate(-45 248.40 350.00)">Elo 0.1 μg/mL</text>
<text x="257.30" y="350.00" font-size="7.5" text-anchor="end" fill="#2a2a2a" color="#2a2a2a" font-weight="normal" textLength="35.50" lengthAdjust="spacingAndGlyphs" transform="rotate(-45 257.30 350.00)">Elo 1 μg/mL</text>
<text x="266.00" y="350.00" font-size="7.5" text-anchor="end" fill="#2a2a2a" color="#2a2a2a" font-weight="normal" textLength="41.50" lengthAdjust="spacingAndGlyphs" transform="rotate(-45 266.00 350.00)">Elo 10 μg/mL</text>
<text x="289.80" y="350.00" font-size="7.5" text-anchor="end" fill="#2a2a2a" color="#2a2a2a" font-weight="normal" transform="rotate(-45 289.80 350.00)">–</text>
<text x="298.30" y="350.00" font-size="7.5" text-anchor="end" fill="#2a2a2a" color="#2a2a2a" font-weight="normal" textLength="14.00" lengthAdjust="spacingAndGlyphs" transform="rotate(-45 298.30 350.00)">hIgG</text>
<text x="307.00" y="350.00" font-size="7.5" text-anchor="end" fill="#2a2a2a" color="#2a2a2a" font-weight="normal" textLength="42.50" lengthAdjust="spacingAndGlyphs" transform="rotate(-45 307.00 350.00)">Elo 0.1 μg/mL</text>
<text x="316.00" y="350.00" font-size="7.5" text-anchor="end" fill="#2a2a2a" color="#2a2a2a" font-weight="normal" textLength="35.50" lengthAdjust="spacingAndGlyphs" transform="rotate(-45 316.00 350.00)">Elo 1 μg/mL</text>
<text x="324.90" y="350.00" font-size="7.5" text-anchor="end" fill="#2a2a2a" color="#2a2a2a" font-weight="normal" textLength="41.50" lengthAdjust="spacingAndGlyphs" transform="rotate(-45 324.90 350.00)">Elo 10 μg/mL</text>
<line x1="220.60" y1="384.30" x2="272.00" y2="384.30" stroke="#111" stroke-width="1.5"/>
<line x1="279.50" y1="384.30" x2="331.60" y2="384.30" stroke="#111" stroke-width="1.5"/>
<text x="246.30" y="394.20" font-size="9.2" text-anchor="middle" fill="#2a2a2a" color="#2a2a2a" font-weight="normal" textLength="17.60" lengthAdjust="spacingAndGlyphs">PBMC</text>
<text x="305.55" y="394.20" font-size="9.2" text-anchor="middle" fill="#2a2a2a" color="#2a2a2a" font-weight="normal" textLength="24.20" lengthAdjust="spacingAndGlyphs">PBMC +</text>
<text x="305.55" y="405.10" font-size="9.2" text-anchor="middle" fill="#2a2a2a" color="#2a2a2a" font-weight="normal" textLength="18.60" lengthAdjust="spacingAndGlyphs">OPM-2</text>
<line x1="66.50" y1="428.00" x2="66.50" y2="553.80" stroke="#111" stroke-width="1.3"/>
<line x1="63.10" y1="550.20" x2="66.50" y2="550.20" stroke="#111" stroke-width="1.2"/>
<text x="58.90" y="552.44" font-size="6.6" text-anchor="end" fill="#2a2a2a" color="#2a2a2a" font-weight="normal" textLength="3.35" lengthAdjust="spacingAndGlyphs">0</text>
<line x1="63.10" y1="526.32" x2="66.50" y2="526.32" stroke="#111" stroke-width="1.2"/>
<text x="58.90" y="528.56" font-size="6.6" text-anchor="end" fill="#2a2a2a" color="#2a2a2a" font-weight="normal" textLength="3.35" lengthAdjust="spacingAndGlyphs">2</text>
<line x1="63.10" y1="502.44" x2="66.50" y2="502.44" stroke="#111" stroke-width="1.2"/>
<text x="58.90" y="504.68" font-size="6.6" text-anchor="end" fill="#2a2a2a" color="#2a2a2a" font-weight="normal" textLength="3.35" lengthAdjust="spacingAndGlyphs">4</text>
<line x1="63.10" y1="478.56" x2="66.50" y2="478.56" stroke="#111" stroke-width="1.2"/>
<text x="58.90" y="480.80" font-size="6.6" text-anchor="end" fill="#2a2a2a" color="#2a2a2a" font-weight="normal" textLength="3.35" lengthAdjust="spacingAndGlyphs">6</text>
<line x1="63.10" y1="454.68" x2="66.50" y2="454.68" stroke="#111" stroke-width="1.2"/>
<text x="58.90" y="456.92" font-size="6.6" text-anchor="end" fill="#2a2a2a" color="#2a2a2a" font-weight="normal" textLength="3.35" lengthAdjust="spacingAndGlyphs">8</text>
<line x1="63.10" y1="430.80" x2="66.50" y2="430.80" stroke="#111" stroke-width="1.2"/>
<text x="58.90" y="433.04" font-size="6.6" text-anchor="end" fill="#2a2a2a" color="#2a2a2a" font-weight="normal" textLength="7.10" lengthAdjust="spacingAndGlyphs">10</text>
<rect x="70.60" y="537.70" width="11.60" height="12.50" fill="#c4c2c9"/>
<rect x="90.40" y="480.00" width="11.60" height="70.20" fill="#9fc473"/>
<rect x="109.70" y="537.40" width="11.60" height="12.80" fill="#c4c2c9"/>
<rect x="128.80" y="489.20" width="11.60" height="61.00" fill="#68a844"/>
<line x1="96.20" y1="440.30" x2="96.20" y2="480.50" stroke="#222" stroke-width="1.3"/>
<line x1="93.20" y1="440.30" x2="99.20" y2="440.30" stroke="#222" stroke-width="1.5"/>
<line x1="134.60" y1="481.20" x2="134.60" y2="489.70" stroke="#222" stroke-width="1.3"/>
<line x1="131.60" y1="481.20" x2="137.60" y2="481.20" stroke="#222" stroke-width="1.5"/>
<line x1="65.90" y1="550.20" x2="145.60" y2="550.20" stroke="#111" stroke-width="1.3"/>
<line x1="66.50" y1="550.20" x2="66.50" y2="553.80" stroke="#111" stroke-width="1.2"/>
<line x1="76.40" y1="550.20" x2="76.40" y2="553.80" stroke="#111" stroke-width="1.2"/>
<line x1="96.20" y1="550.20" x2="96.20" y2="553.80" stroke="#111" stroke-width="1.2"/>
<line x1="115.50" y1="550.20" x2="115.50" y2="553.80" stroke="#111" stroke-width="1.2"/>
<line x1="134.60" y1="550.20" x2="134.60" y2="553.80" stroke="#111" stroke-width="1.2"/>
<text x="45.08" y="488.90" font-size="9.0" text-anchor="middle" fill="#2a2a2a" color="#2a2a2a" font-weight="normal" textLength="89.60" lengthAdjust="spacingAndGlyphs" transform="rotate(-90 45.08 488.90)">Fold change over control IFN-γ</text>
<line x1="76.20" y1="433.10" x2="96.20" y2="433.10" stroke="#222" stroke-width="1.4"/>
<text x="87.10" y="431.60" font-size="7.8" text-anchor="middle" fill="#1a1a1a" color="#1a1a1a" font-weight="bold" letter-spacing="0.6">*</text>
<line x1="115.00" y1="473.80" x2="134.90" y2="473.80" stroke="#222" stroke-width="1.4"/>
<text x="125.60" y="472.30" font-size="7.8" text-anchor="middle" fill="#1a1a1a" color="#1a1a1a" font-weight="bold" letter-spacing="0.6">**</text>
<text x="78.00" y="557.70" font-size="6.4" text-anchor="end" fill="#2a2a2a" color="#2a2a2a" font-weight="normal" textLength="18.10" lengthAdjust="spacingAndGlyphs" transform="rotate(-90 78.00 557.70)">hIgG1</text>
<text x="98.40" y="557.00" font-size="7.0" text-anchor="end" fill="#2a2a2a" color="#2a2a2a" font-weight="normal" textLength="35.00" lengthAdjust="spacingAndGlyphs" transform="rotate(-90 98.40 557.00)">Elotuzumab</text>
<text x="117.10" y="557.70" font-size="6.4" text-anchor="end" fill="#2a2a2a" color="#2a2a2a" font-weight="normal" textLength="18.10" lengthAdjust="spacingAndGlyphs" transform="rotate(-90 117.10 557.70)">hIgG1</text>
<text x="136.80" y="557.00" font-size="7.0" text-anchor="end" fill="#2a2a2a" color="#2a2a2a" font-weight="normal" textLength="35.00" lengthAdjust="spacingAndGlyphs" transform="rotate(-90 136.80 557.00)">Elotuzumab</text>
<line x1="72.40" y1="595.60" x2="100.20" y2="595.60" stroke="#111" stroke-width="1.5"/>
<line x1="105.90" y1="595.60" x2="144.00" y2="595.60" stroke="#111" stroke-width="1.5"/>
<text x="86.30" y="606.50" font-size="8.8" text-anchor="middle" fill="#2a2a2a" color="#2a2a2a" font-weight="normal" textLength="9.20" lengthAdjust="spacingAndGlyphs">NK</text>
<text x="124.95" y="606.50" font-size="8.8" text-anchor="middle" fill="#2a2a2a" color="#2a2a2a" font-weight="normal" textLength="14.60" lengthAdjust="spacingAndGlyphs">NK +</text>
<text x="124.95" y="618.30" font-size="8.8" text-anchor="middle" fill="#2a2a2a" color="#2a2a2a" font-weight="normal" textLength="18.60" lengthAdjust="spacingAndGlyphs">OPM-2</text>
<line x1="185.80" y1="427.80" x2="185.80" y2="553.70" stroke="#111" stroke-width="1.3"/>
<line x1="182.40" y1="550.10" x2="185.80" y2="550.10" stroke="#111" stroke-width="1.2"/>
<text x="178.20" y="552.34" font-size="6.6" text-anchor="end" fill="#2a2a2a" color="#2a2a2a" font-weight="normal" textLength="3.35" lengthAdjust="spacingAndGlyphs">0</text>
<line x1="182.40" y1="510.30" x2="185.80" y2="510.30" stroke="#111" stroke-width="1.2"/>
<text x="178.20" y="512.54" font-size="6.6" text-anchor="end" fill="#2a2a2a" color="#2a2a2a" font-weight="normal" textLength="7.10" lengthAdjust="spacingAndGlyphs">10</text>
<line x1="182.40" y1="470.50" x2="185.80" y2="470.50" stroke="#111" stroke-width="1.2"/>
<text x="178.20" y="472.74" font-size="6.6" text-anchor="end" fill="#2a2a2a" color="#2a2a2a" font-weight="normal" textLength="7.10" lengthAdjust="spacingAndGlyphs">20</text>
<line x1="182.40" y1="430.70" x2="185.80" y2="430.70" stroke="#111" stroke-width="1.2"/>
<text x="178.20" y="432.94" font-size="6.6" text-anchor="end" fill="#2a2a2a" color="#2a2a2a" font-weight="normal" textLength="7.10" lengthAdjust="spacingAndGlyphs">30</text>
<rect x="189.80" y="545.00" width="11.60" height="5.10" fill="#c4c2c9"/>
<rect x="209.60" y="505.50" width="11.60" height="44.60" fill="#9fc473"/>
<rect x="228.60" y="545.00" width="11.60" height="5.10" fill="#c4c2c9"/>
<rect x="248.10" y="485.80" width="11.60" height="64.30" fill="#68a844"/>
<line x1="215.40" y1="493.60" x2="215.40" y2="506.00" stroke="#222" stroke-width="1.3"/>
<line x1="212.40" y1="493.60" x2="218.40" y2="493.60" stroke="#222" stroke-width="1.5"/>
<line x1="253.90" y1="440.20" x2="253.90" y2="486.30" stroke="#222" stroke-width="1.3"/>
<line x1="250.90" y1="440.20" x2="256.90" y2="440.20" stroke="#222" stroke-width="1.5"/>
<line x1="185.20" y1="550.10" x2="265.20" y2="550.10" stroke="#111" stroke-width="1.3"/>
<line x1="185.80" y1="550.10" x2="185.80" y2="553.70" stroke="#111" stroke-width="1.2"/>
<line x1="195.60" y1="550.10" x2="195.60" y2="553.70" stroke="#111" stroke-width="1.2"/>
<line x1="215.40" y1="550.10" x2="215.40" y2="553.70" stroke="#111" stroke-width="1.2"/>
<line x1="234.40" y1="550.10" x2="234.40" y2="553.70" stroke="#111" stroke-width="1.2"/>
<line x1="253.90" y1="550.10" x2="253.90" y2="553.70" stroke="#111" stroke-width="1.2"/>
<text x="164.28" y="488.75" font-size="9.0" text-anchor="middle" fill="#2a2a2a" color="#2a2a2a" font-weight="normal" textLength="92.30" lengthAdjust="spacingAndGlyphs" transform="rotate(-90 164.28 488.75)">Fold change over control TNF-α</text>
<line x1="195.90" y1="485.80" x2="215.50" y2="485.80" stroke="#222" stroke-width="1.4"/>
<text x="206.60" y="484.30" font-size="7.8" text-anchor="middle" fill="#1a1a1a" color="#1a1a1a" font-weight="bold" letter-spacing="0.6">***</text>
<line x1="234.50" y1="432.50" x2="254.10" y2="432.50" stroke="#222" stroke-width="1.4"/>
<text x="246.40" y="431.00" font-size="7.8" text-anchor="middle" fill="#1a1a1a" color="#1a1a1a" font-weight="bold" letter-spacing="0.6">*</text>
<text x="197.20" y="557.60" font-size="6.4" text-anchor="end" fill="#2a2a2a" color="#2a2a2a" font-weight="normal" textLength="18.10" lengthAdjust="spacingAndGlyphs" transform="rotate(-90 197.20 557.60)">hIgG1</text>
<text x="217.60" y="556.90" font-size="7.0" text-anchor="end" fill="#2a2a2a" color="#2a2a2a" font-weight="normal" textLength="35.00" lengthAdjust="spacingAndGlyphs" transform="rotate(-90 217.60 556.90)">Elotuzumab</text>
<text x="236.00" y="557.60" font-size="6.4" text-anchor="end" fill="#2a2a2a" color="#2a2a2a" font-weight="normal" textLength="18.10" lengthAdjust="spacingAndGlyphs" transform="rotate(-90 236.00 557.60)">hIgG1</text>
<text x="256.10" y="556.90" font-size="7.0" text-anchor="end" fill="#2a2a2a" color="#2a2a2a" font-weight="normal" textLength="35.00" lengthAdjust="spacingAndGlyphs" transform="rotate(-90 256.10 556.90)">Elotuzumab</text>
<line x1="191.60" y1="595.50" x2="219.40" y2="595.50" stroke="#111" stroke-width="1.5"/>
<line x1="224.80" y1="595.50" x2="263.30" y2="595.50" stroke="#111" stroke-width="1.5"/>
<text x="205.50" y="606.40" font-size="8.8" text-anchor="middle" fill="#2a2a2a" color="#2a2a2a" font-weight="normal" textLength="9.20" lengthAdjust="spacingAndGlyphs">NK</text>
<text x="244.05" y="606.40" font-size="8.8" text-anchor="middle" fill="#2a2a2a" color="#2a2a2a" font-weight="normal" textLength="14.60" lengthAdjust="spacingAndGlyphs">NK +</text>
<text x="244.05" y="618.20" font-size="8.8" text-anchor="middle" fill="#2a2a2a" color="#2a2a2a" font-weight="normal" textLength="18.60" lengthAdjust="spacingAndGlyphs">OPM-2</text>
<line x1="300.80" y1="427.80" x2="300.80" y2="553.70" stroke="#111" stroke-width="1.3"/>
<line x1="297.40" y1="550.10" x2="300.80" y2="550.10" stroke="#111" stroke-width="1.2"/>
<text x="293.20" y="552.34" font-size="6.6" text-anchor="end" fill="#2a2a2a" color="#2a2a2a" font-weight="normal" textLength="3.35" lengthAdjust="spacingAndGlyphs">0</text>
<line x1="297.40" y1="510.23" x2="300.80" y2="510.23" stroke="#111" stroke-width="1.2"/>
<text x="293.20" y="512.47" font-size="6.6" text-anchor="end" fill="#2a2a2a" color="#2a2a2a" font-weight="normal" textLength="3.35" lengthAdjust="spacingAndGlyphs">2</text>
<line x1="297.40" y1="470.37" x2="300.80" y2="470.37" stroke="#111" stroke-width="1.2"/>
<text x="293.20" y="472.61" font-size="6.6" text-anchor="end" fill="#2a2a2a" color="#2a2a2a" font-weight="normal" textLength="3.35" lengthAdjust="spacingAndGlyphs">4</text>
<line x1="297.40" y1="430.50" x2="300.80" y2="430.50" stroke="#111" stroke-width="1.2"/>
<text x="293.20" y="432.74" font-size="6.6" text-anchor="end" fill="#2a2a2a" color="#2a2a2a" font-weight="normal" textLength="3.35" lengthAdjust="spacingAndGlyphs">6</text>
<rect x="305.10" y="529.30" width="11.60" height="20.80" fill="#c4c2c9"/>
<rect x="324.60" y="503.20" width="11.60" height="46.90" fill="#9fc473"/>
<rect x="344.10" y="529.50" width="11.60" height="20.60" fill="#c4c2c9"/>
<rect x="363.30" y="477.10" width="11.60" height="73.00" fill="#68a844"/>
<line x1="330.40" y1="489.70" x2="330.40" y2="503.70" stroke="#222" stroke-width="1.3"/>
<line x1="327.40" y1="489.70" x2="333.40" y2="489.70" stroke="#222" stroke-width="1.5"/>
<line x1="369.10" y1="452.20" x2="369.10" y2="477.60" stroke="#222" stroke-width="1.3"/>
<line x1="366.10" y1="452.20" x2="372.10" y2="452.20" stroke="#222" stroke-width="1.5"/>
<line x1="300.20" y1="550.10" x2="379.80" y2="550.10" stroke="#111" stroke-width="1.3"/>
<line x1="300.80" y1="550.10" x2="300.80" y2="553.70" stroke="#111" stroke-width="1.2"/>
<line x1="310.90" y1="550.10" x2="310.90" y2="553.70" stroke="#111" stroke-width="1.2"/>
<line x1="330.40" y1="550.10" x2="330.40" y2="553.70" stroke="#111" stroke-width="1.2"/>
<line x1="349.90" y1="550.10" x2="349.90" y2="553.70" stroke="#111" stroke-width="1.2"/>
<line x1="369.10" y1="550.10" x2="369.10" y2="553.70" stroke="#111" stroke-width="1.2"/>
<text x="283.59" y="488.75" font-size="9.0" text-anchor="middle" fill="#2a2a2a" color="#2a2a2a" font-weight="normal" textLength="96.30" lengthAdjust="spacingAndGlyphs" transform="rotate(-90 283.59 488.75)">Fold change over control MIP1-α</text>
<line x1="310.90" y1="482.30" x2="330.50" y2="482.30" stroke="#222" stroke-width="1.4"/>
<text x="322.10" y="480.80" font-size="7.8" text-anchor="middle" fill="#1a1a1a" color="#1a1a1a" font-weight="bold" letter-spacing="0.6">*</text>
<line x1="350.00" y1="445.00" x2="369.20" y2="445.00" stroke="#222" stroke-width="1.4"/>
<text x="359.20" y="443.50" font-size="7.8" text-anchor="middle" fill="#1a1a1a" color="#1a1a1a" font-weight="bold" letter-spacing="0.6">**</text>
<text x="312.50" y="557.60" font-size="6.4" text-anchor="end" fill="#2a2a2a" color="#2a2a2a" font-weight="normal" textLength="18.10" lengthAdjust="spacingAndGlyphs" transform="rotate(-90 312.50 557.60)">hIgG1</text>
<text x="332.60" y="556.90" font-size="7.0" text-anchor="end" fill="#2a2a2a" color="#2a2a2a" font-weight="normal" textLength="35.00" lengthAdjust="spacingAndGlyphs" transform="rotate(-90 332.60 556.90)">Elotuzumab</text>
<text x="351.50" y="557.60" font-size="6.4" text-anchor="end" fill="#2a2a2a" color="#2a2a2a" font-weight="normal" textLength="18.10" lengthAdjust="spacingAndGlyphs" transform="rotate(-90 351.50 557.60)">hIgG1</text>
<text x="371.30" y="556.90" font-size="7.0" text-anchor="end" fill="#2a2a2a" color="#2a2a2a" font-weight="normal" textLength="35.00" lengthAdjust="spacingAndGlyphs" transform="rotate(-90 371.30 556.90)">Elotuzumab</text>
<line x1="306.90" y1="595.50" x2="334.40" y2="595.50" stroke="#111" stroke-width="1.5"/>
<line x1="340.30" y1="595.50" x2="378.50" y2="595.50" stroke="#111" stroke-width="1.5"/>
<text x="320.65" y="606.40" font-size="8.8" text-anchor="middle" fill="#2a2a2a" color="#2a2a2a" font-weight="normal" textLength="9.20" lengthAdjust="spacingAndGlyphs">NK</text>
<text x="359.40" y="606.40" font-size="8.8" text-anchor="middle" fill="#2a2a2a" color="#2a2a2a" font-weight="normal" textLength="14.60" lengthAdjust="spacingAndGlyphs">NK +</text>
<text x="359.40" y="618.20" font-size="8.8" text-anchor="middle" fill="#2a2a2a" color="#2a2a2a" font-weight="normal" textLength="18.60" lengthAdjust="spacingAndGlyphs">OPM-2</text>
<line x1="415.80" y1="427.80" x2="415.80" y2="553.70" stroke="#111" stroke-width="1.3"/>
<line x1="412.40" y1="550.10" x2="415.80" y2="550.10" stroke="#111" stroke-width="1.2"/>
<text x="408.20" y="552.34" font-size="6.6" text-anchor="end" fill="#2a2a2a" color="#2a2a2a" font-weight="normal" textLength="3.35" lengthAdjust="spacingAndGlyphs">0</text>
<line x1="412.40" y1="520.26" x2="415.80" y2="520.26" stroke="#111" stroke-width="1.2"/>
<text x="408.20" y="522.50" font-size="6.6" text-anchor="end" fill="#2a2a2a" color="#2a2a2a" font-weight="normal" textLength="3.35" lengthAdjust="spacingAndGlyphs">2</text>
<line x1="412.40" y1="490.43" x2="415.80" y2="490.43" stroke="#111" stroke-width="1.2"/>
<text x="408.20" y="492.66" font-size="6.6" text-anchor="end" fill="#2a2a2a" color="#2a2a2a" font-weight="normal" textLength="3.35" lengthAdjust="spacingAndGlyphs">4</text>
<line x1="412.40" y1="460.59" x2="415.80" y2="460.59" stroke="#111" stroke-width="1.2"/>
<text x="408.20" y="462.83" font-size="6.6" text-anchor="end" fill="#2a2a2a" color="#2a2a2a" font-weight="normal" textLength="3.35" lengthAdjust="spacingAndGlyphs">6</text>
<line x1="412.40" y1="430.75" x2="415.80" y2="430.75" stroke="#111" stroke-width="1.2"/>
<text x="408.20" y="432.99" font-size="6.6" text-anchor="end" fill="#2a2a2a" color="#2a2a2a" font-weight="normal" textLength="3.35" lengthAdjust="spacingAndGlyphs">8</text>
<rect x="419.60" y="534.20" width="11.60" height="15.90" fill="#c4c2c9"/>
<rect x="439.50" y="490.50" width="11.60" height="59.60" fill="#9fc473"/>
<rect x="459.10" y="533.80" width="11.60" height="16.30" fill="#c4c2c9"/>
<rect x="478.30" y="497.10" width="11.60" height="53.00" fill="#68a844"/>
<line x1="445.30" y1="452.60" x2="445.30" y2="491.00" stroke="#222" stroke-width="1.3"/>
<line x1="442.30" y1="452.60" x2="448.30" y2="452.60" stroke="#222" stroke-width="1.5"/>
<line x1="484.10" y1="484.50" x2="484.10" y2="497.60" stroke="#222" stroke-width="1.3"/>
<line x1="481.10" y1="484.50" x2="487.10" y2="484.50" stroke="#222" stroke-width="1.5"/>
<line x1="415.20" y1="550.10" x2="494.40" y2="550.10" stroke="#111" stroke-width="1.3"/>
<line x1="415.80" y1="550.10" x2="415.80" y2="553.70" stroke="#111" stroke-width="1.2"/>
<line x1="425.40" y1="550.10" x2="425.40" y2="553.70" stroke="#111" stroke-width="1.2"/>
<line x1="445.30" y1="550.10" x2="445.30" y2="553.70" stroke="#111" stroke-width="1.2"/>
<line x1="464.90" y1="550.10" x2="464.90" y2="553.70" stroke="#111" stroke-width="1.2"/>
<line x1="484.10" y1="550.10" x2="484.10" y2="553.70" stroke="#111" stroke-width="1.2"/>
<text x="398.49" y="490.40" font-size="9.0" text-anchor="middle" fill="#2a2a2a" color="#2a2a2a" font-weight="normal" textLength="95.40" lengthAdjust="spacingAndGlyphs" transform="rotate(-90 398.49 490.40)">Fold change over control MIP1-β</text>
<line x1="464.50" y1="476.90" x2="484.10" y2="476.90" stroke="#222" stroke-width="1.4"/>
<text x="475.00" y="475.40" font-size="7.8" text-anchor="middle" fill="#1a1a1a" color="#1a1a1a" font-weight="bold" letter-spacing="0.6">***</text>
<text x="427.00" y="557.60" font-size="6.4" text-anchor="end" fill="#2a2a2a" color="#2a2a2a" font-weight="normal" textLength="18.10" lengthAdjust="spacingAndGlyphs" transform="rotate(-90 427.00 557.60)">hIgG1</text>
<text x="447.50" y="556.90" font-size="7.0" text-anchor="end" fill="#2a2a2a" color="#2a2a2a" font-weight="normal" textLength="35.00" lengthAdjust="spacingAndGlyphs" transform="rotate(-90 447.50 556.90)">Elotuzumab</text>
<text x="466.50" y="557.60" font-size="6.4" text-anchor="end" fill="#2a2a2a" color="#2a2a2a" font-weight="normal" textLength="18.10" lengthAdjust="spacingAndGlyphs" transform="rotate(-90 466.50 557.60)">hIgG1</text>
<text x="486.30" y="556.90" font-size="7.0" text-anchor="end" fill="#2a2a2a" color="#2a2a2a" font-weight="normal" textLength="35.00" lengthAdjust="spacingAndGlyphs" transform="rotate(-90 486.30 556.90)">Elotuzumab</text>
<line x1="421.40" y1="595.50" x2="449.30" y2="595.50" stroke="#111" stroke-width="1.5"/>
<line x1="455.30" y1="595.50" x2="493.50" y2="595.50" stroke="#111" stroke-width="1.5"/>
<text x="435.35" y="606.40" font-size="8.8" text-anchor="middle" fill="#2a2a2a" color="#2a2a2a" font-weight="normal" textLength="9.20" lengthAdjust="spacingAndGlyphs">NK</text>
<text x="474.40" y="606.40" font-size="8.8" text-anchor="middle" fill="#2a2a2a" color="#2a2a2a" font-weight="normal" textLength="14.60" lengthAdjust="spacingAndGlyphs">NK +</text>
<text x="474.40" y="618.20" font-size="8.8" text-anchor="middle" fill="#2a2a2a" color="#2a2a2a" font-weight="normal" textLength="18.60" lengthAdjust="spacingAndGlyphs">OPM-2</text>
<line x1="66.50" y1="645.20" x2="66.50" y2="770.50" stroke="#111" stroke-width="1.3"/>
<line x1="63.10" y1="767.30" x2="66.50" y2="767.30" stroke="#111" stroke-width="1.2"/>
<text x="58.90" y="769.54" font-size="6.6" text-anchor="end" fill="#2a2a2a" color="#2a2a2a" font-weight="normal" textLength="3.35" lengthAdjust="spacingAndGlyphs">0</text>
<line x1="63.10" y1="754.07" x2="66.50" y2="754.07" stroke="#111" stroke-width="1.2"/>
<text x="58.90" y="756.31" font-size="6.6" text-anchor="end" fill="#2a2a2a" color="#2a2a2a" font-weight="normal" textLength="10.85" lengthAdjust="spacingAndGlyphs">500</text>
<line x1="63.10" y1="740.83" x2="66.50" y2="740.83" stroke="#111" stroke-width="1.2"/>
<text x="58.90" y="743.07" font-size="6.6" text-anchor="end" fill="#2a2a2a" color="#2a2a2a" font-weight="normal" textLength="14.60" lengthAdjust="spacingAndGlyphs">1000</text>
<line x1="63.10" y1="727.60" x2="66.50" y2="727.60" stroke="#111" stroke-width="1.2"/>
<text x="58.90" y="729.84" font-size="6.6" text-anchor="end" fill="#2a2a2a" color="#2a2a2a" font-weight="normal" textLength="14.60" lengthAdjust="spacingAndGlyphs">1500</text>
<line x1="63.10" y1="714.37" x2="66.50" y2="714.37" stroke="#111" stroke-width="1.2"/>
<text x="58.90" y="716.61" font-size="6.6" text-anchor="end" fill="#2a2a2a" color="#2a2a2a" font-weight="normal" textLength="14.60" lengthAdjust="spacingAndGlyphs">2000</text>
<line x1="63.10" y1="701.13" x2="66.50" y2="701.13" stroke="#111" stroke-width="1.2"/>
<text x="58.90" y="703.37" font-size="6.6" text-anchor="end" fill="#2a2a2a" color="#2a2a2a" font-weight="normal" textLength="14.60" lengthAdjust="spacingAndGlyphs">2500</text>
<line x1="63.10" y1="687.90" x2="66.50" y2="687.90" stroke="#111" stroke-width="1.2"/>
<text x="58.90" y="690.14" font-size="6.6" text-anchor="end" fill="#2a2a2a" color="#2a2a2a" font-weight="normal" textLength="14.60" lengthAdjust="spacingAndGlyphs">3000</text>
<line x1="63.10" y1="674.67" x2="66.50" y2="674.67" stroke="#111" stroke-width="1.2"/>
<text x="58.90" y="676.91" font-size="6.6" text-anchor="end" fill="#2a2a2a" color="#2a2a2a" font-weight="normal" textLength="14.60" lengthAdjust="spacingAndGlyphs">3500</text>
<line x1="63.10" y1="661.43" x2="66.50" y2="661.43" stroke="#111" stroke-width="1.2"/>
<text x="58.90" y="663.67" font-size="6.6" text-anchor="end" fill="#2a2a2a" color="#2a2a2a" font-weight="normal" textLength="14.60" lengthAdjust="spacingAndGlyphs">4000</text>
<line x1="63.10" y1="648.20" x2="66.50" y2="648.20" stroke="#111" stroke-width="1.2"/>
<text x="58.90" y="650.44" font-size="6.6" text-anchor="end" fill="#2a2a2a" color="#2a2a2a" font-weight="normal" textLength="14.60" lengthAdjust="spacingAndGlyphs">4500</text>
<line x1="65.90" y1="767.30" x2="207.20" y2="767.30" stroke="#111" stroke-width="1.3"/>
<text x="25.68" y="706.20" font-size="9.0" text-anchor="middle" fill="#2a2a2a" color="#2a2a2a" font-weight="normal" textLength="93.40" lengthAdjust="spacingAndGlyphs" transform="rotate(-90 25.68 706.20)">CD54 MFI on CD56<tspan font-size="5.6" dy="-3.0">dim</tspan><tspan dy="3.0">​</tspan>CD16<tspan font-size="5.6" dy="-3.0">+</tspan><tspan dy="3.0">​</tspan>CD3<tspan font-size="5.6" dy="-3.0">−</tspan><tspan dy="3.0">​</tspan></text>
<text x="37.08" y="706.20" font-size="9.0" text-anchor="middle" fill="#2a2a2a" color="#2a2a2a" font-weight="normal" textLength="52.40" lengthAdjust="spacingAndGlyphs" transform="rotate(-90 37.08 706.20)">bone marrow cells</text>
<line x1="107.80" y1="648.40" x2="165.40" y2="648.40" stroke="#222" stroke-width="1.4"/>
<text x="137.10" y="647.00" font-size="7.8" text-anchor="middle" fill="#1a1a1a" color="#1a1a1a" font-weight="bold" letter-spacing="0.6">***</text>
<circle cx="105.00" cy="671.50" r="2.9" fill="#c6c6c6"/>
<circle cx="105.00" cy="728.80" r="2.9" fill="#c6c6c6"/>
<circle cx="105.00" cy="762.80" r="2.9" fill="#c6c6c6"/>
<line x1="105.00" y1="728.80" x2="105.00" y2="742.50" stroke="#c6c6c6" stroke-width="1.2"/>
<line x1="105.00" y1="748.00" x2="105.00" y2="756.30" stroke="#c6c6c6" stroke-width="1.2"/>
<rect x="91.20" y="742.40" width="27.50" height="5.80" fill="#c6c6c6"/>
<line x1="91.20" y1="746.90" x2="118.70" y2="746.90" stroke="#111" stroke-width="2.0"/>
<line x1="171.00" y1="652.30" x2="171.00" y2="764.40" stroke="#a80a2e" stroke-width="1.4"/>
<rect x="157.30" y="693.60" width="27.60" height="35.30" fill="#a80a2e"/>
<line x1="157.30" y1="711.20" x2="184.90" y2="711.20" stroke="#4a0010" stroke-width="2.0"/>
<text x="104.70" y="781.40" font-size="7.6" text-anchor="middle" fill="#2a2a2a" color="#2a2a2a" font-weight="normal" textLength="20.40" lengthAdjust="spacingAndGlyphs">SCRN</text>
<text x="170.80" y="781.40" font-size="7.6" text-anchor="middle" fill="#2a2a2a" color="#2a2a2a" font-weight="normal" textLength="23.20" lengthAdjust="spacingAndGlyphs">C1D22</text>
<line x1="268.00" y1="645.00" x2="268.00" y2="770.50" stroke="#111" stroke-width="1.3"/>
<line x1="264.60" y1="767.30" x2="268.00" y2="767.30" stroke="#111" stroke-width="1.2"/>
<text x="260.40" y="769.54" font-size="6.6" text-anchor="end" fill="#2a2a2a" color="#2a2a2a" font-weight="normal" textLength="3.35" lengthAdjust="spacingAndGlyphs">0</text>
<line x1="264.60" y1="756.48" x2="268.00" y2="756.48" stroke="#111" stroke-width="1.2"/>
<text x="260.40" y="758.72" font-size="6.6" text-anchor="end" fill="#2a2a2a" color="#2a2a2a" font-weight="normal" textLength="3.35" lengthAdjust="spacingAndGlyphs">5</text>
<line x1="264.60" y1="745.66" x2="268.00" y2="745.66" stroke="#111" stroke-width="1.2"/>
<text x="260.40" y="747.90" font-size="6.6" text-anchor="end" fill="#2a2a2a" color="#2a2a2a" font-weight="normal" textLength="7.10" lengthAdjust="spacingAndGlyphs">10</text>
<line x1="264.60" y1="734.85" x2="268.00" y2="734.85" stroke="#111" stroke-width="1.2"/>
<text x="260.40" y="737.09" font-size="6.6" text-anchor="end" fill="#2a2a2a" color="#2a2a2a" font-weight="normal" textLength="7.10" lengthAdjust="spacingAndGlyphs">15</text>
<line x1="264.60" y1="724.03" x2="268.00" y2="724.03" stroke="#111" stroke-width="1.2"/>
<text x="260.40" y="726.27" font-size="6.6" text-anchor="end" fill="#2a2a2a" color="#2a2a2a" font-weight="normal" textLength="7.10" lengthAdjust="spacingAndGlyphs">20</text>
<line x1="264.60" y1="713.21" x2="268.00" y2="713.21" stroke="#111" stroke-width="1.2"/>
<text x="260.40" y="715.45" font-size="6.6" text-anchor="end" fill="#2a2a2a" color="#2a2a2a" font-weight="normal" textLength="7.10" lengthAdjust="spacingAndGlyphs">25</text>
<line x1="264.60" y1="702.39" x2="268.00" y2="702.39" stroke="#111" stroke-width="1.2"/>
<text x="260.40" y="704.63" font-size="6.6" text-anchor="end" fill="#2a2a2a" color="#2a2a2a" font-weight="normal" textLength="7.10" lengthAdjust="spacingAndGlyphs">30</text>
<line x1="264.60" y1="691.57" x2="268.00" y2="691.57" stroke="#111" stroke-width="1.2"/>
<text x="260.40" y="693.81" font-size="6.6" text-anchor="end" fill="#2a2a2a" color="#2a2a2a" font-weight="normal" textLength="7.10" lengthAdjust="spacingAndGlyphs">35</text>
<line x1="264.60" y1="680.75" x2="268.00" y2="680.75" stroke="#111" stroke-width="1.2"/>
<text x="260.40" y="682.99" font-size="6.6" text-anchor="end" fill="#2a2a2a" color="#2a2a2a" font-weight="normal" textLength="7.10" lengthAdjust="spacingAndGlyphs">40</text>
<line x1="264.60" y1="669.94" x2="268.00" y2="669.94" stroke="#111" stroke-width="1.2"/>
<text x="260.40" y="672.18" font-size="6.6" text-anchor="end" fill="#2a2a2a" color="#2a2a2a" font-weight="normal" textLength="7.10" lengthAdjust="spacingAndGlyphs">45</text>
<line x1="264.60" y1="659.12" x2="268.00" y2="659.12" stroke="#111" stroke-width="1.2"/>
<text x="260.40" y="661.36" font-size="6.6" text-anchor="end" fill="#2a2a2a" color="#2a2a2a" font-weight="normal" textLength="7.10" lengthAdjust="spacingAndGlyphs">50</text>
<line x1="264.60" y1="648.30" x2="268.00" y2="648.30" stroke="#111" stroke-width="1.2"/>
<text x="260.40" y="650.54" font-size="6.6" text-anchor="end" fill="#2a2a2a" color="#2a2a2a" font-weight="normal" textLength="7.10" lengthAdjust="spacingAndGlyphs">55</text>
<line x1="267.40" y1="767.30" x2="409.20" y2="767.30" stroke="#111" stroke-width="1.3"/>
<text x="247.28" y="706.05" font-size="9.0" text-anchor="middle" fill="#2a2a2a" color="#2a2a2a" font-weight="normal" textLength="111.30" lengthAdjust="spacingAndGlyphs" transform="rotate(-90 247.28 706.05)">CD45<tspan font-size="5.6" dy="-3.0">dim</tspan><tspan dy="3.0">​</tspan>CD138<tspan font-size="5.6" dy="-3.0">+</tspan><tspan dy="3.0">​</tspan> bone marrow cells (%)</text>
<line x1="306.80" y1="651.00" x2="364.30" y2="651.00" stroke="#222" stroke-width="1.4"/>
<text x="335.40" y="650.00" font-size="8.0" text-anchor="middle" fill="#222" color="#222" font-weight="bold">*</text>
<circle cx="306.60" cy="678.80" r="2.9" fill="#c6c6c6"/>
<circle cx="306.60" cy="681.30" r="2.9" fill="#c6c6c6"/>
<circle cx="306.60" cy="697.60" r="2.9" fill="#c6c6c6"/>
<circle cx="306.60" cy="705.60" r="2.9" fill="#c6c6c6"/>
<line x1="306.60" y1="729.10" x2="306.60" y2="750.20" stroke="#c6c6c6" stroke-width="1.2"/>
<rect x="292.60" y="750.20" width="27.80" height="13.90" fill="#c6c6c6"/>
<line x1="292.60" y1="761.60" x2="320.40" y2="761.60" stroke="#111" stroke-width="1.8"/>
<circle cx="372.80" cy="651.60" r="3.1" fill="#a80a2e"/>
<circle cx="372.80" cy="721.20" r="3.1" fill="#a80a2e"/>
<circle cx="372.80" cy="748.20" r="3.1" fill="#a80a2e"/>
<line x1="372.80" y1="756.20" x2="372.80" y2="761.00" stroke="#4a0010" stroke-width="1.3"/>
<rect x="359.00" y="761.00" width="27.90" height="5.80" fill="#a80a2e"/>
<line x1="359.00" y1="764.00" x2="386.90" y2="764.00" stroke="#4a0010" stroke-width="1.4"/>
<text x="306.20" y="781.40" font-size="7.6" text-anchor="middle" fill="#2a2a2a" color="#2a2a2a" font-weight="normal" textLength="20.40" lengthAdjust="spacingAndGlyphs">SCRN</text>
<text x="372.60" y="781.40" font-size="7.6" text-anchor="middle" fill="#2a2a2a" color="#2a2a2a" font-weight="normal" textLength="23.20" lengthAdjust="spacingAndGlyphs">C1D22</text>
<rect x="0" y="0" width="520" height="1.5" fill="#000"/>
<rect x="0" y="0" width="1.5" height="790" fill="#000"/>
<rect x="518.5" y="0" width="1.5" height="790" fill="#000"/>
<rect x="0" y="788.5" width="520" height="1.5" fill="#000"/>
</svg>
</body></html>
